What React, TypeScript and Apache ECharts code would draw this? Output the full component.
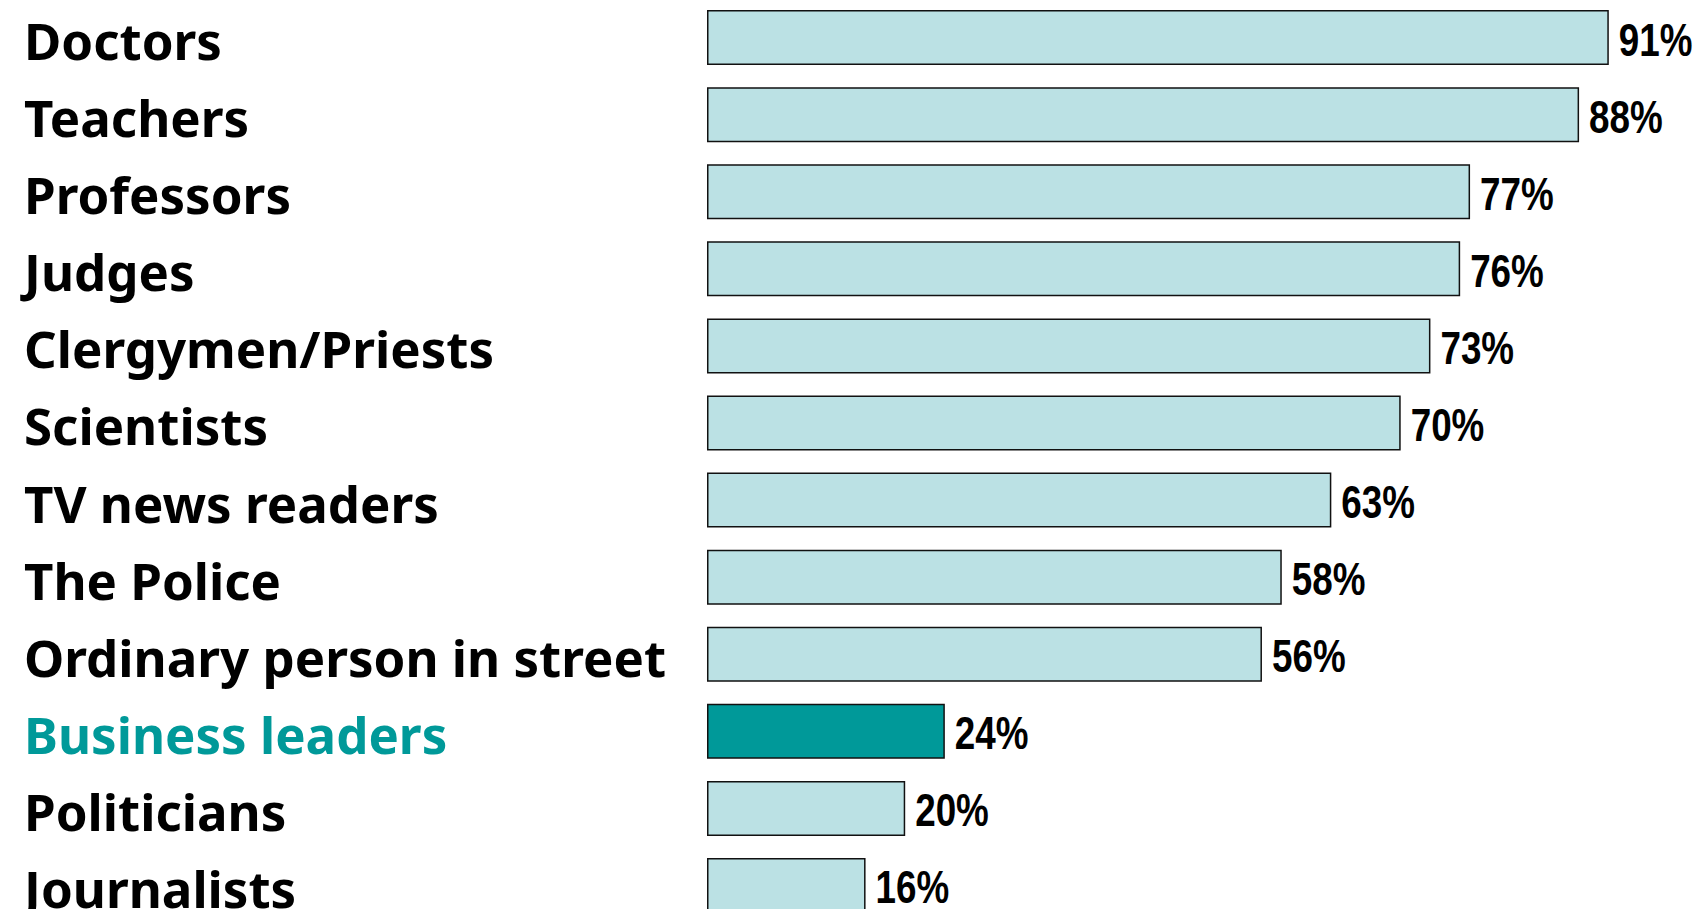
import React, { useEffect, useRef } from "react";
import * as echarts from "echarts";

const categories = [
  "Doctors",
  "Teachers",
  "Professors",
  "Judges",
  "Clergymen/Priests",
  "Scientists",
  "TV news readers",
  "The Police",
  "Ordinary person in street",
  "Business leaders",
  "Politicians",
  "Journalists",
];
const values = [91, 88, 77, 76, 73, 70, 63, 58, 56, 24, 20, 16];
const highlighted = "Business leaders";

const LIGHT = "#BBE1E4";
const DARK = "#009999";

export default function App() {
  const ref = useRef<HTMLDivElement>(null);
  useEffect(() => {
    if (!ref.current) return;
    const chart = echarts.init(ref.current, undefined, { renderer: "svg" });
    const labelFont = "'Noto Sans', 'DejaVu Sans', sans-serif";
    chart.setOption({
      animation: false,
      backgroundColor: "#ffffff",
      grid: { left: 707, right: 1, top: 1, height: 925, containLabel: false },
      xAxis: {
        type: "value",
        min: 0,
        max: 100,
        show: false,
      },
      yAxis: {
        type: "category",
        data: categories,
        inverse: true,
        axisLine: { show: false },
        axisTick: { show: false },
        axisLabel: {
          align: "left",
          margin: 683,
          formatter: (v: string) => (v === highlighted ? `{hl|${v}}` : `{n|${v}}`),
          rich: {
            n: { fontFamily: labelFont, fontWeight: "bold", fontSize: 51, color: "#000", padding: [5, 0, 0, 0] },
            hl: { fontFamily: labelFont, fontWeight: "bold", fontSize: 51, color: DARK, padding: [5, 0, 0, 0] },
          },
        },
      },
      series: [
        {
          type: "bar",
          barWidth: 55,
          data: values.map((v, i) => ({
            value: v,
            itemStyle: { color: categories[i] === highlighted ? DARK : LIGHT },
          })),
          itemStyle: { borderColor: "#111", borderWidth: 1.5 },
        },
        {
          type: "custom",
          data: values.map((v, i) => [v, i]),
          encode: { x: 0, y: 1 },
          renderItem: (params: any, api: any) => {
            const p = api.coord([api.value(0), api.value(1)]);
            return {
              type: "text",
              x: p[0] + 10,
              y: p[1] + 2,
              scaleX: 0.8,
              style: {
                text: api.value(0) + "%",
                fontFamily: "'Liberation Sans', Arial, sans-serif",
                fontWeight: "bold",
                fontSize: 46,
                fill: "#000",
                verticalAlign: "middle",
                align: "left",
              },
            };
          },
        },
      ],
    });
    return () => chart.dispose();
  }, []);
  return (
    <div style={{ position: "absolute", left: 0, top: 0, width: 1699, height: 909, overflow: "hidden" }}>
      <div
        ref={ref}
        style={{ position: "absolute", left: 0, top: -2, width: 1699, height: 940 }}
      />
    </div>
  );
}
